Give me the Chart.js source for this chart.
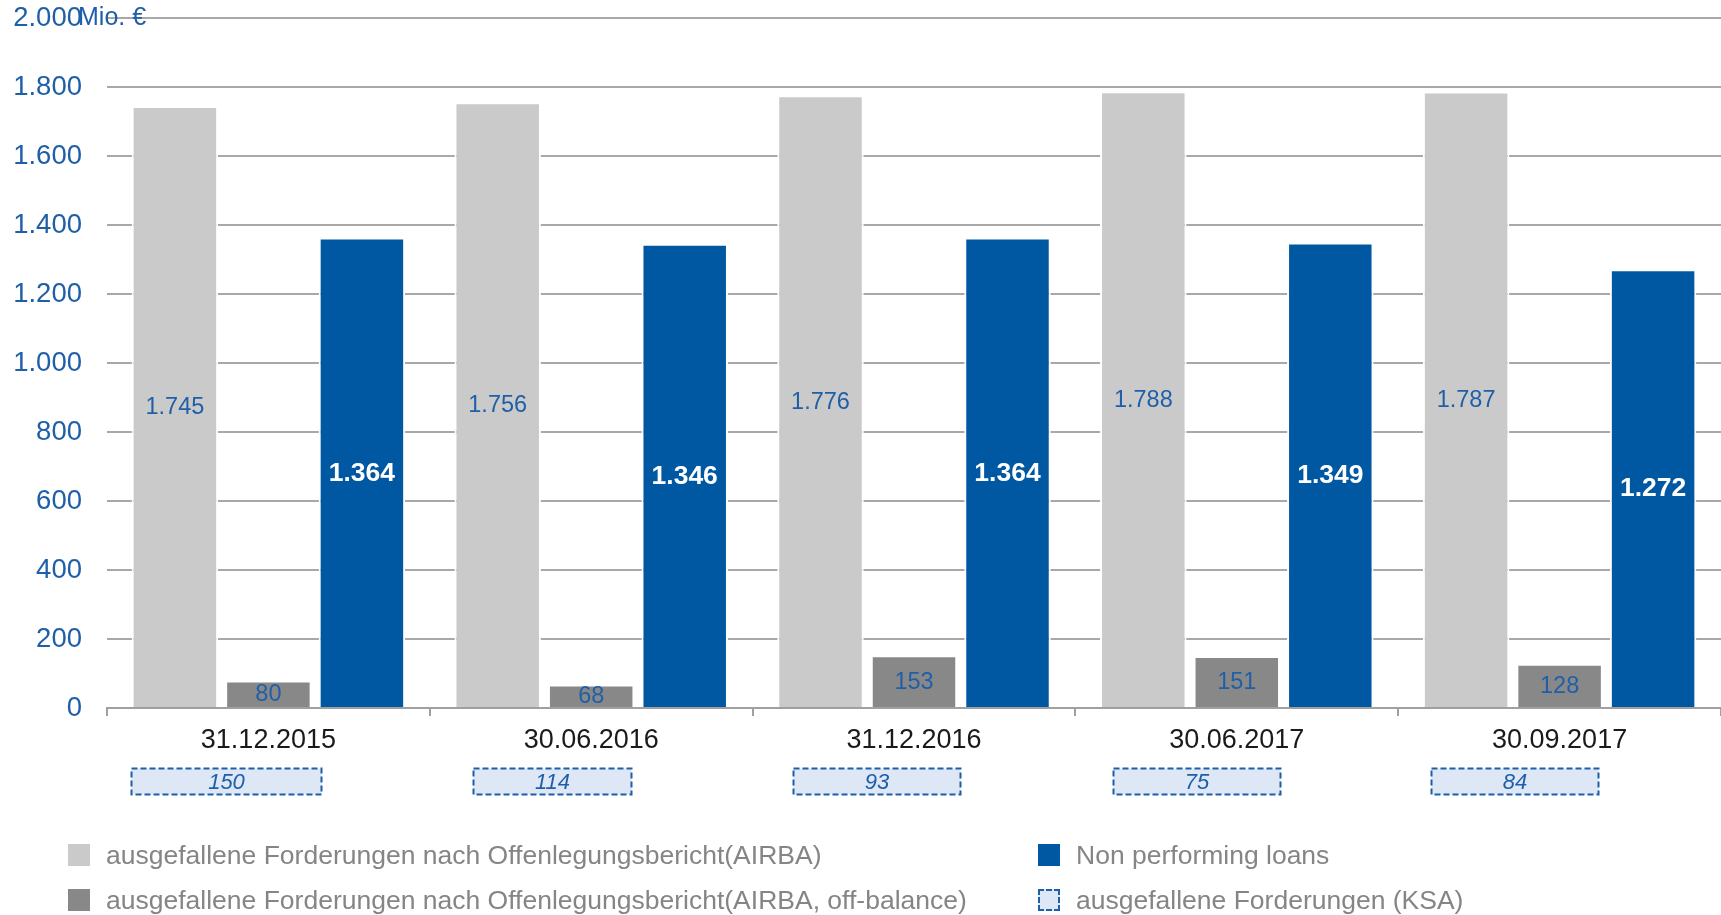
<!DOCTYPE html>
<html>
<head>
<meta charset="utf-8">
<script src="https://cdn.jsdelivr.net/npm/chart.js@4/dist/chart.umd.min.js"></script>
<style>
  html, body { margin: 0; padding: 0; background: #ffffff; }
  #wrap { position: relative; width: 1721px; height: 915px; overflow: hidden; }
  #c { position: absolute; left: 0; top: 0; }
  .lg { position: absolute; font-family: 'Liberation Sans', Arial, sans-serif; font-size: 26.5px; color: #858585; white-space: nowrap; line-height: 30px; }
  .sw { position: absolute; width: 22px; height: 22px; }
</style>
</head>
<body>
<div id="wrap">
  <canvas id="c" width="1721" height="915"></canvas>
  <div id="legend"></div>
</div>
<script>
// ---- data ----
const categories = ['31.12.2015', '30.06.2016', '31.12.2016', '30.06.2017', '30.09.2017'];
const airba      = [1745, 1756, 1776, 1788, 1787];
const airbaOff   = [80, 68, 153, 151, 128];
const npl        = [1364, 1346, 1364, 1349, 1272];
const ksa        = [150, 114, 93, 75, 84];
const seriesNames = [
  'ausgefallene Forderungen nach Offenlegungsbericht(AIRBA)',
  'ausgefallene Forderungen nach Offenlegungsbericht(AIRBA, off-balance)',
  'Non performing loans',
  'ausgefallene Forderungen (KSA)'
];
const unitLabel = 'Mio. €';
const yMin = 0, yMax = 2000, yStep = 200;

// ---- styles ----
const FONT = "'Liberation Sans', Arial, sans-serif";
const BLUE_TXT = '#1f5fa8';
const C_LIGHT = '#cacaca';
const C_DARK = '#888888';
const C_BLUE = '#0058a3';
const KSA_FILL = '#dee7f5';
const KSA_LINE = '#1f5fa8';

function fmt(v) {
  return String(v).replace(/\B(?=(\d{3})+(?!\d))/g, '.');
}

const barLabels = {
  id: 'barLabels',
  afterDatasetsDraw(chart) {
    const ctx = chart.ctx;
    chart.data.datasets.forEach((ds, di) => {
      const meta = chart.getDatasetMeta(di);
      meta.data.forEach((el, i) => {
        const cy = (el.y + el.base) / 2;
        ctx.save();
        ctx.textAlign = 'center';
        ctx.textBaseline = 'middle';
        if (di === 2) {
          ctx.font = 'bold 26.5px ' + FONT;
          ctx.fillStyle = '#ffffff';
        } else {
          ctx.font = '23.5px ' + FONT;
          ctx.fillStyle = BLUE_TXT;
        }
        ctx.fillText(fmt(ds.data[i]), el.x, cy + 1);
        ctx.restore();
      });
    });
  }
};

const extras = {
  id: 'extras',
  afterDraw(chart) {
    const ctx = chart.ctx;
    const xs = chart.scales.x;
    // unit label
    ctx.save();
    ctx.font = '25px ' + FONT;
    ctx.fillStyle = BLUE_TXT;
    ctx.textAlign = 'left';
    ctx.textBaseline = 'middle';
    ctx.fillText(unitLabel, 78, 18);
    ctx.restore();
    // KSA boxes
    const widths = [190, 158, 167, 167, 167];
    const offs = [-42, -39, -38, -40, -45];
    ksa.forEach((v, i) => {
      const cx = xs.getPixelForValue(i) + offs[i];
      const w = widths[i];
      const x0 = Math.round(cx - w / 2) + 0.5;
      const y0 = 768.5, h = 26;
      ctx.save();
      ctx.fillStyle = KSA_FILL;
      ctx.fillRect(x0, y0, w, h);
      ctx.setLineDash([6, 3]);
      ctx.lineWidth = 2;
      ctx.strokeStyle = KSA_LINE;
      ctx.strokeRect(x0, y0, w, h);
      ctx.setLineDash([]);
      ctx.font = 'italic 22px ' + FONT;
      ctx.fillStyle = BLUE_TXT;
      ctx.textAlign = 'center';
      ctx.textBaseline = 'middle';
      ctx.fillText(fmt(v), x0 + w / 2, y0 + h / 2 + 1);
      ctx.restore();
    });
  }
};

const chart = new Chart(document.getElementById('c'), {
  type: 'bar',
  data: {
    labels: categories,
    datasets: [
      { label: seriesNames[0], data: airba, backgroundColor: C_LIGHT, borderColor: '#ffffff', borderWidth: 2 },
      { label: seriesNames[1], data: airbaOff, backgroundColor: C_DARK, borderColor: '#ffffff', borderWidth: 2 },
      { label: seriesNames[2], data: npl, backgroundColor: C_BLUE, borderColor: '#ffffff', borderWidth: 2 }
    ]
  },
  options: {
    responsive: false,
    animation: false,
    devicePixelRatio: 1,
    layout: { padding: { top: 18, left: 0, right: 0, bottom: 0 } },
    datasets: { bar: { categoryPercentage: 0.869, barPercentage: 0.925 } },
    plugins: { legend: { display: false }, tooltip: { enabled: false } },
    scales: {
      x: {
        afterFit(scale) { scale.height = 207; scale.paddingLeft = 0; scale.paddingRight = 0; },
        grid: { drawOnChartArea: false, drawTicks: true, tickLength: 8, color: '#a0a0a0', lineWidth: 2, offset: true },
        border: { display: true, color: '#a0a0a0', width: 2 },
        ticks: { color: '#1a1a1a', font: { family: FONT, size: 27 }, padding: 8, maxRotation: 0 }
      },
      y: {
        min: yMin, max: yMax,
        afterFit(scale) { scale.width = 107; scale.paddingTop = 0; scale.paddingBottom = 0; },
        grid: { color: '#a8a8a8', lineWidth: 2, drawTicks: false },
        border: { display: false },
        ticks: { stepSize: yStep, color: BLUE_TXT, font: { family: FONT, size: 27.5 }, padding: 25, callback: v => fmt(v) }
      }
    }
  },
  plugins: [barLabels, extras]
});

// ---- legend (HTML) ----
const legendItems = [
  { name: seriesNames[0], fill: C_LIGHT, dashed: false, x: 68, y: 855 },
  { name: seriesNames[2], fill: C_BLUE, dashed: false, x: 1038, y: 855 },
  { name: seriesNames[1], fill: C_DARK, dashed: false, x: 68, y: 900 },
  { name: seriesNames[3], fill: KSA_FILL, dashed: true, x: 1038, y: 900 }
];
const lg = document.getElementById('legend');
legendItems.forEach(it => {
  const sw = document.createElement('div');
  sw.className = 'sw';
  sw.style.left = it.x + 'px';
  sw.style.top = (it.y - 11) + 'px';
  sw.style.background = it.fill;
  if (it.dashed) {
    sw.style.boxSizing = 'border-box';
    sw.style.border = '2px dashed ' + KSA_LINE;
  }
  lg.appendChild(sw);
  const t = document.createElement('div');
  t.className = 'lg';
  t.textContent = it.name;
  t.style.left = (it.x + 38) + 'px';
  t.style.top = (it.y - 15) + 'px';
  lg.appendChild(t);
});
</script>
</body>
</html>
